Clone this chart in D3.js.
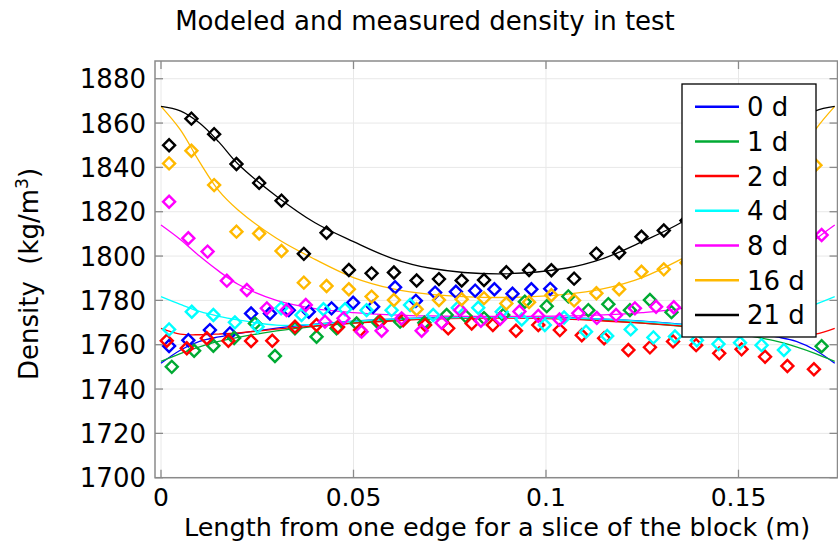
<!DOCTYPE html>
<html>
<head>
<meta charset="utf-8">
<script src="https://cdn.jsdelivr.net/npm/d3@7"></script>
<style>
  body { margin: 0; background: #fff; }
  text { font-family: "DejaVu Sans", sans-serif; fill: #000; }
</style>
</head>
<body>
<svg id="chart" width="838" height="542"></svg>
<script>
// Series names and colours (age of the block in days)
const seriesNames = ["0 d", "1 d", "2 d", "4 d", "8 d", "16 d", "21 d"];
const seriesColors = ["#0000ff", "#00aa33", "#ff0000", "#00ffff", "#ff00ff", "#ffb900", "#000000"];

// Axis ticks
const xTicks = [0, 0.05, 0.1, 0.15];
const xTickLabels = ["0", "0.05", "0.1", "0.15"];
const yTicks = [1700, 1720, 1740, 1760, 1780, 1800, 1820, 1840, 1860, 1880];

// Modeled density profiles, sampled along the block (m)
const modelX = [0, 0.005, 0.01, 0.015, 0.02, 0.03, 0.04, 0.05, 0.06, 0.07, 0.0875,
                0.105, 0.115, 0.125, 0.135, 0.145, 0.155, 0.16, 0.165, 0.17, 0.175];
const model0d  = [1751.6, 1757.5, 1761.5, 1763.5, 1765, 1767.5, 1769.3, 1770.6, 1771.5, 1772.2, 1772.6,
                  1772.2, 1771.5, 1770.6, 1769.3, 1767.5, 1765, 1763.5, 1761.5, 1757.5, 1751.6];
const model1d  = [1752.5, 1756, 1759, 1761.5, 1763.3, 1766.2, 1768.3, 1769.8, 1771, 1771.8, 1772.4,
                  1771.8, 1771, 1769.8, 1768.3, 1766.2, 1763.3, 1761.5, 1759, 1756, 1752.5];
const model2d  = [1767.4, 1764.8, 1764.5, 1764.8, 1765.3, 1767, 1768.5, 1769.7, 1770.7, 1771.5, 1772,
                  1771.5, 1770.7, 1769.7, 1768.5, 1767, 1765.3, 1764.8, 1764.5, 1764.8, 1767.4];
const model4d  = [1781.7, 1778.2, 1775, 1772.8, 1771.2, 1768.8, 1769.2, 1770.5, 1771.5, 1772, 1772.3,
                  1772, 1771.5, 1770.5, 1769.2, 1768.8, 1771.2, 1772.8, 1775, 1778.2, 1781.7];
const model8d  = [1814, 1807.5, 1800, 1793.2, 1787.3, 1780, 1776.3, 1774.5, 1773.5, 1773, 1772.8,
                  1773, 1773.5, 1774.5, 1776.3, 1780, 1787.3, 1793.2, 1800, 1807.5, 1814];
const model16d = [1867.5, 1857, 1842.5, 1829.5, 1820.8, 1808, 1798.5, 1790.3, 1785.3, 1782.7, 1781.3,
                  1782.7, 1785.3, 1790.3, 1798.5, 1808, 1820.8, 1829.5, 1842.5, 1857, 1867.5];
const model21d = [1867.5, 1865.5, 1860, 1851.5, 1841.5, 1827, 1815, 1806.5, 1799, 1794.5, 1792,
                  1794.5, 1799, 1806.5, 1815, 1827, 1841.5, 1851.5, 1860, 1865.5, 1867.5];

// Measured slice densities: slice positions (m) and densities (kg/m3)
const meas0dX = [0.0021, 0.0071, 0.0127, 0.0179, 0.0234, 0.0283, 0.0332, 0.0384, 0.0443, 0.0499,
                 0.0551, 0.0608, 0.0662, 0.0712, 0.0766, 0.0816, 0.0866, 0.0913, 0.0962, 0.1011];
const meas0d  = [1759.4, 1762, 1766.6, 1765.1, 1774.1, 1774.1, 1775.6, 1774.9, 1776.4, 1778.9,
                 1777.1, 1785.9, 1779.8, 1783.5, 1783.9, 1784.4, 1785, 1783, 1785, 1785.2];

const meas1dX = [0.0028, 0.0086, 0.0136, 0.0190, 0.0244, 0.0296, 0.0348, 0.0404, 0.0456, 0.0508,
                 0.0564, 0.0621, 0.0684, 0.0742, 0.0791, 0.0839, 0.0889, 0.0945, 0.1002, 0.1058,
                 0.1110, 0.1162, 0.1218, 0.1270, 0.1326, 0.1379, 0.1434, 0.1488, 0.1543, 0.1597,
                 0.1652, 0.1716];
const meas1d  = [1750, 1757.3, 1759.5, 1763, 1769.6, 1754.9, 1767.4, 1763.6, 1767.4, 1769.6,
                 1770, 1770.4, 1769.9, 1773.4, 1772.9, 1772, 1773.4, 1779.4, 1777.4, 1781.8,
                 1775.6, 1778.3, 1775.6, 1780.2, 1774.7, 1776, 1774, 1772, 1771, 1769.5,
                 1769, 1759.3];

const meas2dX = [0.0015, 0.0067, 0.0119, 0.0175, 0.0234, 0.0289, 0.0348, 0.0404, 0.0460, 0.0517,
                 0.0569, 0.0629, 0.0686, 0.0746, 0.0807, 0.0862, 0.0922, 0.0980, 0.1036, 0.1093,
                 0.1151, 0.1214, 0.1270, 0.1330, 0.1390, 0.1450, 0.1508, 0.1569, 0.1627, 0.1696];
const meas2d  = [1761.8, 1758.4, 1762.9, 1761.8, 1761.7, 1761.8, 1768.1, 1768.9, 1768, 1766.6,
                 1770.4, 1771, 1768.9, 1767.4, 1769.6, 1768.9, 1766.3, 1768.9, 1766.6, 1764.3,
                 1762.9, 1757.6, 1758.8, 1761.5, 1759.8, 1756.1, 1757.9, 1754.6, 1750.4, 1748.9];

const meas4dX = [0.0021, 0.0080, 0.0136, 0.0192, 0.0251, 0.0312, 0.0365, 0.0422, 0.0478, 0.0534,
                 0.0599, 0.0647, 0.0707, 0.0771, 0.0824, 0.0885, 0.0937, 0.0997, 0.1047, 0.1104,
                 0.1159, 0.1220, 0.1279, 0.1335, 0.1392, 0.1448, 0.1504, 0.1560, 0.1618];
const meas4d  = [1766.9, 1774.9, 1773.4, 1770.1, 1768.1, 1776.4, 1773.4, 1776, 1776, 1775.6,
                 1775.6, 1777.9, 1773.4, 1776.7, 1776.7, 1774.9, 1771.4, 1768.9, 1772.3, 1765.9,
                 1763.9, 1766.9, 1763.3, 1763.7, 1762, 1760.3, 1760.9, 1759.8, 1757.6];

const meas8dX = [0.0021, 0.0071, 0.0121, 0.0171, 0.0223, 0.0275, 0.0326, 0.0376, 0.0426, 0.0474,
                 0.0521, 0.0573, 0.0625, 0.0677, 0.0729, 0.0777, 0.0831, 0.0881, 0.0931, 0.0980,
                 0.1035, 0.1084, 0.1132, 0.1182, 0.1231, 0.1286, 0.1332, 0.1382, 0.1432, 0.1483,
                 0.1534, 0.1584, 0.1635, 0.1716];
const meas8d  = [1824.5, 1808, 1802, 1788.9, 1784.7, 1776.4, 1775.6, 1777.9, 1770.4, 1771.9,
                 1765.9, 1766.3, 1771.9, 1766.3, 1769.9, 1775.6, 1770.8, 1771.7, 1775, 1773,
                 1771.4, 1774.2, 1772.1, 1773.4, 1776.4, 1777.1, 1776.9, 1778, 1781, 1785,
                 1790, 1796, 1802, 1809.5];

const meas16dX = [0.0021, 0.0079, 0.0138, 0.0196, 0.0255, 0.0313, 0.0371, 0.0430, 0.0488, 0.0547,
                  0.0605, 0.0664, 0.0722, 0.0781, 0.0839, 0.0897, 0.0956, 0.1014, 0.1073, 0.1131,
                  0.1190, 0.1248, 0.1306, 0.1365, 0.1423, 0.1482, 0.1540, 0.1599, 0.1657, 0.1700];
const meas16d  = [1841.8, 1847.5, 1832, 1811, 1810.2, 1802.3, 1788, 1786.5, 1785, 1781.7,
                  1780.2, 1776, 1780.2, 1780.5, 1781, 1778.6, 1779.2, 1782.3, 1780, 1783.2,
                  1785, 1792.9, 1794, 1797, 1801, 1806, 1812, 1819, 1827, 1841];

const meas21dX = [0.0021, 0.0079, 0.0138, 0.0196, 0.0255, 0.0313, 0.0371, 0.0430, 0.0488, 0.0547,
                  0.0605, 0.0664, 0.0722, 0.0781, 0.0839, 0.0897, 0.0956, 0.1014, 0.1073, 0.1131,
                  0.1190, 0.1248, 0.1306, 0.1365, 0.1423, 0.1482, 0.1540, 0.1599, 0.1657];
const meas21d  = [1850, 1862, 1855, 1841.5, 1833, 1825, 1801, 1810.5, 1793.7, 1792.2,
                  1792.6, 1789, 1789.6, 1789, 1789.2, 1792.7, 1793.7, 1793.6, 1789.8, 1801.1,
                  1801.5, 1808.7, 1811.5, 1816, 1821, 1827, 1834, 1842, 1850];

const models = [model0d, model1d, model2d, model4d, model8d, model16d, model21d];
const measX = [meas0dX, meas1dX, meas2dX, meas4dX, meas8dX, meas16dX, meas21dX];
const measY = [meas0d, meas1d, meas2d, meas4d, meas8d, meas16d, meas21d];

// ---- layout ----
const plot = { left: 155, right: 837.5, top: 61, bottom: 477.7 };
const fontSize = 26;

const svg = d3.select("#chart");

const x = d3.scaleLinear().domain([-0.00156, 0.17572]).range([plot.left, plot.right]);
const y = d3.scaleLinear().domain([1700, 1888]).range([plot.bottom, plot.top]);

// grid lines
const grid = svg.append("g").attr("stroke", "#e8e8e8").attr("stroke-width", 1);
grid.selectAll(".gx").data(xTicks).join("line")
  .attr("x1", d => x(d)).attr("x2", d => x(d))
  .attr("y1", plot.top).attr("y2", plot.bottom);
grid.selectAll(".gy").data(yTicks).join("line")
  .attr("x1", plot.left).attr("x2", plot.right)
  .attr("y1", d => y(d)).attr("y2", d => y(d));

// clip region for data
svg.append("clipPath").attr("id", "plotClip").append("rect")
  .attr("x", plot.left).attr("y", plot.top)
  .attr("width", plot.right - plot.left).attr("height", plot.bottom - plot.top);

const dataLayer = svg.append("g").attr("clip-path", "url(#plotClip)");

const line = d3.line()
  .x(d => x(d[0])).y(d => y(d[1]))
  .curve(d3.curveCatmullRom.alpha(0.5));

// modeled profiles
models.forEach((vals, i) => {
  dataLayer.append("path")
    .datum(modelX.map((xv, j) => [xv, vals[j]]))
    .attr("fill", "none")
    .attr("stroke", seriesColors[i])
    .attr("stroke-width", 1.3)
    .attr("d", line);
});

// measured points (hollow diamonds)
const diamond = d3.symbol().type(d3.symbolSquare).size(72);
measY.forEach((vals, i) => {
  const pts = vals.map((v, j) => [measX[i][j], v]);
  dataLayer.append("g").selectAll("path").data(pts).join("path")
    .attr("d", diamond)
    .attr("transform", d => `translate(${x(d[0])},${y(d[1])}) rotate(45)`)
    .attr("fill", "none")
    .attr("stroke", seriesColors[i])
    .attr("stroke-width", 2.4);
});

// axes frame
svg.append("rect")
  .attr("x", plot.left).attr("y", plot.top)
  .attr("width", plot.right - plot.left).attr("height", plot.bottom - plot.top)
  .attr("fill", "none").attr("stroke", "#8a8a8a").attr("stroke-width", 1.5);

// inward ticks on all four sides
const tickLen = 8;
const ticks = svg.append("g").attr("stroke", "#8a8a8a").attr("stroke-width", 1.3);
xTicks.forEach(t => {
  ticks.append("line").attr("x1", x(t)).attr("x2", x(t)).attr("y1", plot.bottom).attr("y2", plot.bottom - tickLen);
  ticks.append("line").attr("x1", x(t)).attr("x2", x(t)).attr("y1", plot.top).attr("y2", plot.top + tickLen);
});
yTicks.forEach(t => {
  ticks.append("line").attr("x1", plot.left).attr("x2", plot.left + tickLen).attr("y1", y(t)).attr("y2", y(t));
  ticks.append("line").attr("x1", plot.right).attr("x2", plot.right - tickLen).attr("y1", y(t)).attr("y2", y(t));
});

// tick labels
svg.append("g").selectAll("text").data(yTicks).join("text")
  .attr("x", 146).attr("y", d => y(d) + 9.5)
  .attr("text-anchor", "end").attr("font-size", fontSize)
  .text(d => d);
svg.append("g").selectAll("text").data(xTicks).join("text")
  .attr("x", d => x(d)).attr("y", 505.5)
  .attr("text-anchor", "middle").attr("font-size", 25)
  .text((d, i) => xTickLabels[i]);

// title and axis labels
svg.append("text").attr("x", 425).attr("y", 30)
  .attr("text-anchor", "middle").attr("font-size", fontSize)
  .text("Modeled and measured density in test");

svg.append("text").attr("x", 497).attr("y", 536)
  .attr("text-anchor", "middle").attr("font-size", 25.5)
  .text("Length from one edge for a slice of the block (m)");

const yLabel = svg.append("text")
  .attr("transform", "translate(38,274) rotate(-90)")
  .attr("text-anchor", "middle").attr("font-size", fontSize);
yLabel.append("tspan").text("Density\u00a0\u00a0(kg/m");
yLabel.append("tspan").attr("font-size", 17).attr("dy", -10).text("3");
yLabel.append("tspan").attr("dy", 10).text(")");

// legend
const legend = svg.append("g");
legend.append("rect")
  .attr("x", 682).attr("y", 84).attr("width", 134).attr("height", 253)
  .attr("fill", "#fff").attr("stroke", "#000").attr("stroke-width", 1.3);
seriesNames.forEach((name, i) => {
  const cy = 106.7 + i * 34.7;
  legend.append("line")
    .attr("x1", 695).attr("x2", 739).attr("y1", cy).attr("y2", cy)
    .attr("stroke", seriesColors[i]).attr("stroke-width", 2.5);
  legend.append("text")
    .attr("x", 747).attr("y", cy + 9.5)
    .attr("font-size", fontSize)
    .text(name);
});
</script>
</body>
</html>
